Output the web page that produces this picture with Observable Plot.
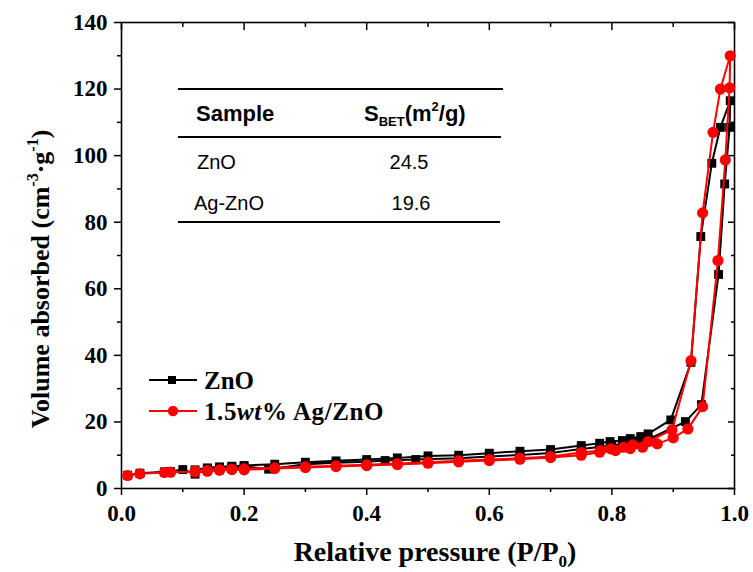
<!DOCTYPE html>
<html><head><meta charset="utf-8">
<script src="https://cdn.jsdelivr.net/npm/d3@7"></script>
<script src="https://cdn.jsdelivr.net/npm/@observablehq/plot@0.6"></script>
<style>body{margin:0;background:#fff}</style>
</head><body><div id="chart"></div>
<script>
// ZnO isotherm: adsorption then desorption branch
const znoAdsP = [0.01,0.03,0.07,0.08,0.10,0.12,0.14,0.16,0.18,0.20,0.24,0.30,0.35,0.40,0.43,0.48,0.55,0.60,0.65,0.70,0.75,0.78,0.80,0.82,0.84,0.86,0.92,0.946,0.974,0.984,0.992,0.993];
const znoAdsV = [4.0,4.6,5.0,5.1,5.7,4.3,5.9,6.2,6.4,6.6,5.8,7.3,7.7,8.0,8.4,8.7,9.1,9.6,10.1,10.7,11.9,12.5,12.9,13.4,14.0,14.8,20.1,25.2,64.3,91.5,108.5,116.5];
const znoDesP = [0.977,0.963,0.945,0.929,0.896,0.859,0.847,0.830,0.817,0.797,0.780,0.750,0.70,0.65,0.60,0.55,0.50,0.45,0.40,0.35,0.30,0.25,0.20,0.18,0.16,0.14,0.12];
const znoDesV = [108.5,97.7,75.7,37.9,20.6,16.4,15.6,15.0,14.4,14.1,13.6,12.9,11.7,11.2,10.6,10.0,9.8,9.2,8.7,8.3,7.9,7.3,6.9,6.7,6.5,6.2,5.6];
// 1.5wt% Ag/ZnO isotherm
const agAdsP = [0.01,0.03,0.07,0.08,0.12,0.14,0.16,0.18,0.20,0.25,0.30,0.35,0.40,0.45,0.50,0.55,0.60,0.65,0.70,0.75,0.78,0.806,0.83,0.85,0.874,0.90,0.924,0.948,0.973,0.985,0.992,0.993];
const agAdsV = [3.9,4.4,4.8,4.9,5.0,5.2,5.5,5.7,5.6,6.0,6.3,6.6,6.9,7.2,7.6,8.0,8.4,8.8,9.3,10.0,10.9,11.4,12.0,12.4,13.4,15.2,17.9,24.6,68.5,98.7,120.4,130.0];
const agDesP = [0.977,0.965,0.948,0.929,0.898,0.859,0.834,0.819,0.798,0.781,0.750,0.70,0.65,0.60,0.55,0.50,0.45,0.40,0.35,0.30,0.25,0.20,0.18,0.16,0.14,0.12];
const agDesV = [120.0,107.0,82.8,38.4,17.6,14.1,13.1,12.4,11.9,11.4,10.8,9.6,9.1,8.7,8.3,7.9,7.5,7.1,6.8,6.5,6.2,5.9,5.8,5.6,5.4,5.2];

const xMajor = [0,0.2,0.4,0.6,0.8,1.0];
const xMinor = [0.1,0.3,0.5,0.7,0.9];
const yMajor = [0,20,40,60,80,100,120,140];
const yMinor = [10,30,50,70,90,110,130];

const tableSamples = ["ZnO","Ag-ZnO"];
const tableSbet = ["24.5","19.6"];
const seriesNames = ["ZnO","1.5wt% Ag/ZnO"];

const toRows = (P,V) => P.map((p,i)=>({p, v:V[i]}));
const zno = [...toRows(znoAdsP,znoAdsV), ...toRows(znoDesP,znoDesV)];
const ag = [...toRows(agAdsP,agAdsV), ...toRows(agDesP,agDesV)];

const W = 753, H = 572;
const chart = Plot.plot({
  width: W, height: H,
  marginLeft: 121, marginRight: 19, marginTop: 22, marginBottom: 84,
  style: {fontFamily: "'Liberation Serif','Times New Roman',serif", background: "#fff", color: "#000", overflow: "visible"},
  x: {domain: [0,1]},
  y: {domain: [0,140]},
  marks: [
    Plot.axisX({ticks: xMajor, tickSize: 7, tickPadding: 9, tickFormat: d => d.toFixed(1), label: null, fontSize: 23, fontWeight: "bold", strokeWidth: 1.5}),
    Plot.axisX({ticks: xMinor, tickSize: 4, tickFormat: () => "", label: null, strokeWidth: 1.5}),
    Plot.axisX({anchor: "top", ticks: xMajor, tickSize: -7, tickFormat: () => "", label: null, strokeWidth: 1.5}),
    Plot.axisX({anchor: "top", ticks: xMinor, tickSize: -4, tickFormat: () => "", label: null, strokeWidth: 1.5}),
    Plot.axisY({ticks: yMajor, tickSize: 7, tickPadding: 7, tickFormat: d => String(d), label: null, fontSize: 23, fontWeight: "bold", strokeWidth: 1.5}),
    Plot.axisY({ticks: yMinor, tickSize: 4, tickFormat: () => "", label: null, strokeWidth: 1.5}),
    Plot.axisY({anchor: "right", ticks: yMajor, tickSize: -7, tickFormat: () => "", label: null, strokeWidth: 1.5}),
    Plot.axisY({anchor: "right", ticks: yMinor, tickSize: -4, tickFormat: () => "", label: null, strokeWidth: 1.5}),
    Plot.frame({stroke: "#000", strokeWidth: 1.6}),
    Plot.line(zno, {x: "p", y: "v", stroke: "#000", strokeWidth: 2}),
    Plot.dot(zno, {x: "p", y: "v", symbol: "square", fill: "#000", r: 5}),
    Plot.line(ag, {x: "p", y: "v", stroke: "#ff0000", strokeWidth: 2}),
    Plot.dot(ag, {x: "p", y: "v", fill: "#ff0000", r: 5.6})
  ]
});
document.getElementById("chart").appendChild(chart);

const svg = d3.select(chart);
const serif = "'Liberation Serif','Times New Roman',serif";
const sans = "'Liberation Sans',Arial,sans-serif";

// axis titles
const xt = svg.append("text").attr("x", 435).attr("y", 561).attr("text-anchor", "middle")
  .attr("font-family", serif).attr("font-weight", "bold").attr("font-size", 28).attr("fill", "#000");
xt.append("tspan").text("Relative pressure (P/P");
xt.append("tspan").attr("font-size", 17).attr("dy", 6).text("0");
xt.append("tspan").attr("dy", -6).text(")");

const yt = svg.append("text").attr("transform", "translate(49,279) rotate(-90)").attr("text-anchor", "middle")
  .attr("font-family", serif).attr("font-weight", "bold").attr("font-size", 26).attr("fill", "#000");
yt.append("tspan").text("Volume absorbed (cm");
yt.append("tspan").attr("font-size", 16).attr("dy", -11).text("-3");
yt.append("tspan").attr("dy", 11).text("·g");
yt.append("tspan").attr("font-size", 16).attr("dy", -11).text("-1");
yt.append("tspan").attr("dy", 11).text(")");

// legend
const lg = svg.append("g").attr("text-anchor", "start");
lg.append("line").attr("x1", 149).attr("x2", 197).attr("y1", 380).attr("y2", 380).attr("stroke", "#000").attr("stroke-width", 2);
lg.append("rect").attr("x", 168).attr("y", 376).attr("width", 8).attr("height", 8).attr("fill", "#000");
lg.append("text").attr("x", 204).attr("y", 389).attr("font-family", serif).attr("font-weight", "bold").attr("font-size", 25).text(seriesNames[0]);
lg.append("line").attr("x1", 149).attr("x2", 197).attr("y1", 411).attr("y2", 411).attr("stroke", "#ff0000").attr("stroke-width", 2);
lg.append("circle").attr("cx", 173).attr("cy", 411).attr("r", 5.2).attr("fill", "#ff0000");
const l2 = lg.append("text").attr("x", 204).attr("y", 420).attr("font-family", serif).attr("font-weight", "bold").attr("font-size", 25).attr("letter-spacing", 0.6);
l2.append("tspan").text("1.5");
l2.append("tspan").attr("font-style", "italic").text("wt");
l2.append("tspan").text("% Ag/ZnO");

// table
const tb = svg.append("g").attr("font-family", sans).attr("fill", "#000").attr("text-anchor", "start");
[[89,503],[137,501],[222,500]].forEach(([y,x2]) => {
  tb.append("line").attr("x1", 178).attr("x2", x2).attr("y1", y).attr("y2", y).attr("stroke", "#000").attr("stroke-width", 2);
});
tb.append("text").attr("x", 196).attr("y", 121).attr("font-weight", "bold").attr("font-size", 22).text("Sample");
const sb = tb.append("text").attr("x", 364).attr("y", 121).attr("font-weight", "bold").attr("font-size", 22);
sb.append("tspan").text("S");
sb.append("tspan").attr("font-size", 13).attr("dy", 5).text("BET");
sb.append("tspan").attr("dy", -5).text("(m");
sb.append("tspan").attr("font-size", 13).attr("dy", -10).text("2");
sb.append("tspan").attr("dy", 10).text("/g)");
tableSamples.forEach((s,i) => {
  const y = [169,210][i];
  tb.append("text").attr("x", [197,194][i]).attr("y", y).attr("font-size", 20).text(s);
  tb.append("text").attr("x", [409,411][i]).attr("y", y).attr("text-anchor", "middle").attr("font-size", 20).text(tableSbet[i]);
});
</script>
</body></html>
